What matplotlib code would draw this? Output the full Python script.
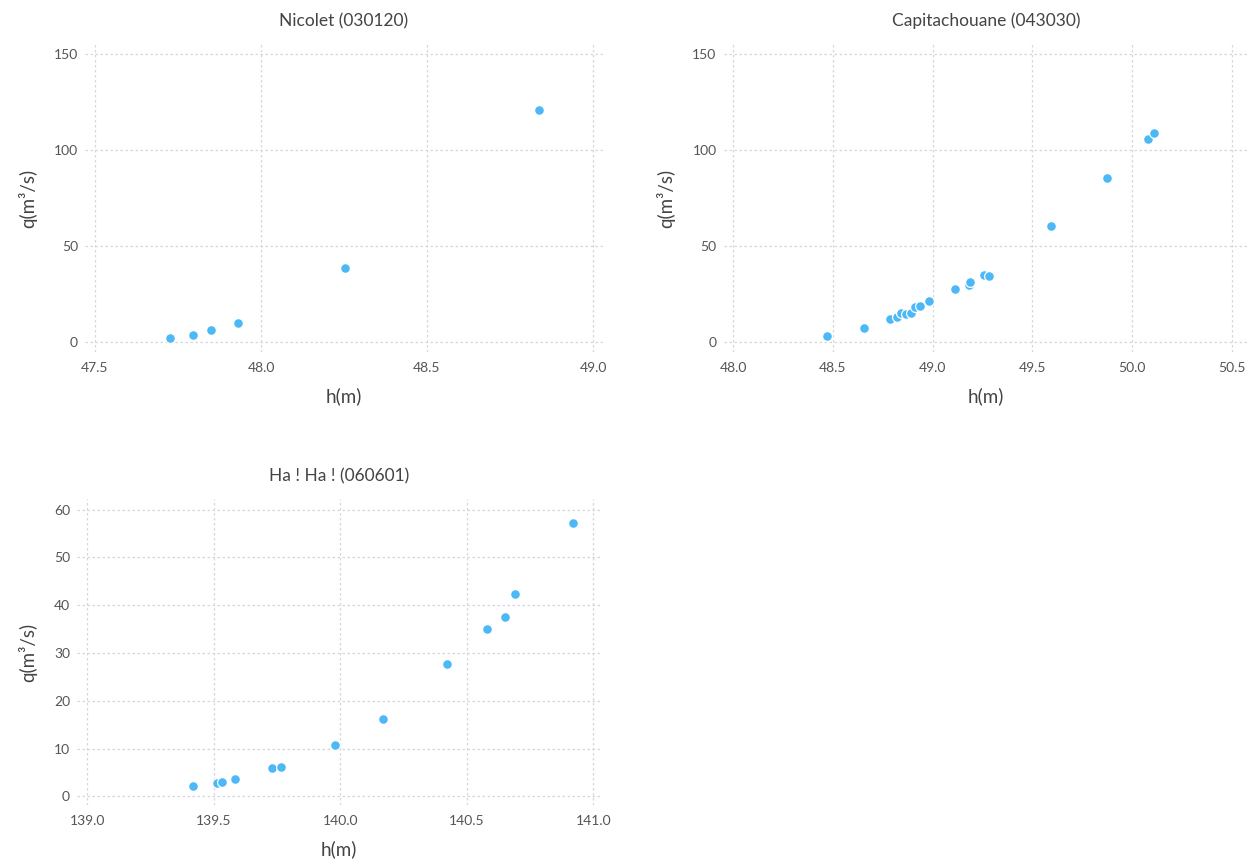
import numpy as np
import matplotlib
matplotlib.use("Agg")
import matplotlib.pyplot as plt

plt.rcParams['font.family'] = ['Lato', 'DejaVu Sans']

# stage-discharge measurements, one set per station
titles = ["Nicolet (030120)", "Capitachouane (043030)", "Ha ! Ha ! (060601)"]

h_nicolet = [47.727, 47.796, 47.848, 47.932, 48.254, 48.837]
q_nicolet = [2.0, 3.9, 6.0, 10.1, 38.4, 120.7]

h_capitach = [48.47, 48.658, 48.788, 48.82, 48.843, 48.866, 48.891, 48.909, 48.935,
              48.98, 49.114, 49.183, 49.185, 49.259, 49.281, 49.595, 49.875, 50.08, 50.11]
q_capitach = [3.3, 7.2, 11.9, 12.9, 15.2, 14.8, 15.3, 18.2, 18.5,
              21.4, 27.4, 29.9, 31.0, 35.1, 34.2, 60.2, 85.5, 105.8, 108.7]

h_haha = [139.42, 139.513, 139.532, 139.585, 139.731, 139.764, 139.98,
          140.17, 140.423, 140.578, 140.65, 140.689, 140.919]
q_haha = [2.1, 2.8, 3.1, 3.7, 5.9, 6.1, 10.8, 16.2, 27.6, 35.1, 37.5, 42.4, 57.2]

W, H = 1249, 865
fig = plt.figure(figsize=(W / 100, H / 100), dpi=100)


def px_axes(left, top, right, bottom):
    return fig.add_axes([left / W, 1 - bottom / H, (right - left) / W, (bottom - top) / H])


panels = [
    (px_axes(85, 44, 603, 352), h_nicolet, q_nicolet,
     (47.47, 49.03), (-5.2, 155.2), [47.5, 48.0, 48.5, 49.0], [0, 50, 100, 150]),
    (px_axes(723.5, 44, 1249, 352), h_capitach, q_capitach,
     (47.952, 50.585), (-5.2, 155.2), [48.0, 48.5, 49.0, 49.5, 50.0, 50.5], [0, 50, 100, 150]),
    (px_axes(77, 499, 601, 805), h_haha, q_haha,
     (138.96, 141.03), (-1.8, 62.2), [139.0, 139.5, 140.0, 140.5, 141.0], [0, 10, 20, 30, 40, 50, 60]),
]

for (ax, h, q, xl, yl, xt, yt), title in zip(panels, titles):
    ax.scatter(h, q, s=50, color='#4db8f6', edgecolor='white', linewidth=0.9, zorder=3)
    ax.set_xlim(*xl)
    ax.set_ylim(*yl)
    ax.set_xticks(xt)
    ax.set_xticklabels([f"{v:.1f}" for v in xt])
    ax.set_yticks(yt)
    ax.grid(True, color='#d6d6e0', linestyle=(0, (2, 2)), linewidth=0.9)
    ax.set_axisbelow(True)
    for s in ax.spines.values():
        s.set_visible(False)
    ax.tick_params(length=0, labelsize=10, labelcolor='#555555')
    ax.tick_params(axis='x', pad=7)
    ax.tick_params(axis='y', pad=5)
    ax.set_title(title, fontsize=12.5, color='#444444', pad=13)
    ax.set_xlabel("h(m)", fontsize=13.5, color='#444444', labelpad=10)
    ax.set_ylabel("q(m³/s)", fontsize=13.5, color='#444444', labelpad=12)

fig.savefig("out.png", dpi=100)
